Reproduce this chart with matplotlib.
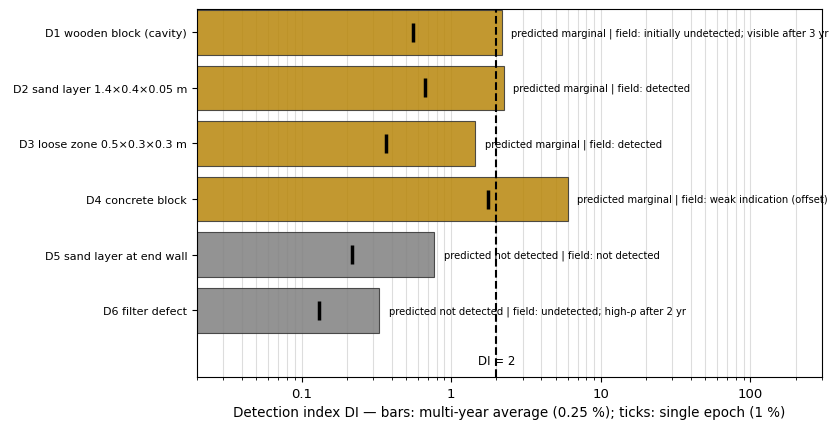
import matplotlib
matplotlib.use("Agg")
import matplotlib.pyplot as plt
from matplotlib.ticker import FormatStrFormatter

defects = ["D1 wooden block (cavity)", "D2 sand layer 1.4\u00d70.4\u00d70.05 m",
           "D3 loose zone 0.5\u00d70.3\u00d70.3 m", "D4 concrete block",
           "D5 sand layer at end wall", "D6 filter defect"]
di_avg = [2.17, 2.24, 1.45, 6.0, 0.77, 0.33]      # multi-year average (0.25 %)
di_single = [0.555, 0.668, 0.365, 1.75, 0.219, 0.13]  # single epoch (1 %)
predicted = ["marginal", "marginal", "marginal", "marginal", "not detected", "not detected"]
field = ["initially undetected; visible after 3 yr", "detected", "detected",
         "weak indication (offset)", "not detected", "undetected; high-\u03c1 after 2 yr"]

fig, ax = plt.subplots(figsize=(8.31, 4.31), dpi=100)

ypos = list(range(len(defects)))
colors = ["#b8860b" if p == "marginal" else "#808080" for p in predicted]
ax.barh(ypos, di_avg, height=0.8, color=colors, alpha=0.85, edgecolor="#333333",
        linewidth=0.8, zorder=2)
ax.vlines(di_single, [y - 0.17 for y in ypos], [y + 0.17 for y in ypos],
          color="black", linewidth=2.5, zorder=3)

for y, v, p, f in zip(ypos, di_avg, predicted, field):
    ax.text(v * 1.16, y, f"predicted {p} | field: {f}", va="center", ha="left",
            fontsize=7.2, clip_on=False, zorder=4)

ax.axvline(2, color="black", linestyle="--", linewidth=1.5, zorder=4)
ax.text(2, 5.9, "DI = 2", ha="center", va="center", fontsize=8.5)

ax.set_xscale("log")
ax.set_xlim(0.02, 300)
ax.set_ylim(6.2, -0.42)
ax.set_yticks(ypos)
ax.set_yticklabels(defects, fontsize=8)
ax.xaxis.set_major_formatter(FormatStrFormatter("%g"))
ax.tick_params(axis="x", labelsize=9.5)
ax.grid(True, which="both", axis="x", color="#dddddd", linewidth=0.8, zorder=0)
ax.set_axisbelow(True)
ax.set_xlabel("Detection index DI \u2014 bars: multi-year average (0.25 %); ticks: single epoch (1 %)",
              fontsize=9.75)

fig.subplots_adjust(left=0.237, right=0.989, top=0.977, bottom=0.123)
fig.savefig("out.png", dpi=100)
